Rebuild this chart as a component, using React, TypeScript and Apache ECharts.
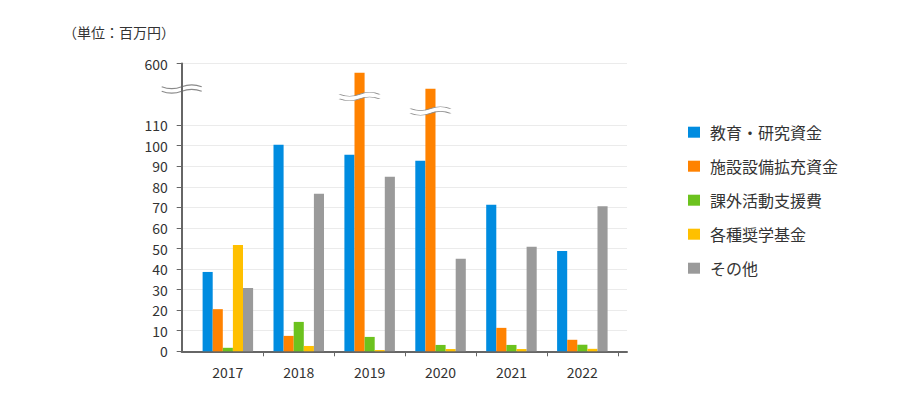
import React, { useEffect, useRef } from "react";
import * as echarts from "echarts";

// ---- data ----
const years = ["2017", "2018", "2019", "2020", "2021", "2022"];
const seriesNames = ["教育・研究資金", "施設設備拡充資金", "課外活動支援費", "各種奨学基金", "その他"];
const education = [38.6, 100.5, 95.6, 92.7, 71.3, 48.8];
const facilities = [20.5, 7.5, 595.5, 587.7, 11.4, 5.6];
const clubs = [1.7, 14.3, 7.0, 3.1, 3.1, 3.2];
const scholarships = [51.7, 2.6, 0.6, 1.1, 1.1, 1.2];
const others = [30.8, 76.6, 84.9, 45.0, 50.8, 70.6];
const yTicks = [0, 10, 20, 30, 40, 50, 60, 70, 80, 90, 100, 110, 600];
const axisBreak = { start: 112, end: 575, gap: 3 };
const barBreakMarks: [string, number][] = [["2019", 583.9], ["2020", 576.9]];
const axisBreakMarkValue = 587.6;
const unitLabel = "（単位：百万円）";

const colors = ["#008ce0", "#ff8200", "#6cc21e", "#ffc000", "#9a9a9a"];
const FONT = '"Noto Sans CJK JP", "Noto Sans", sans-serif';

// wave shapes (box 38 x ~8)
const bandD =
  "M0 2 C6.3 4.5 12.7 4.5 19 2 C25.3 -0.5 31.7 -0.5 38 2 L38 6.5 C31.7 4 25.3 4 19 6.5 C12.7 9 6.3 9 0 6.5 Z";
const waveD =
  "M0 2 C6.3 4.5 12.7 4.5 19 2 C25.3 -0.5 31.7 -0.5 38 2 M0 6.5 C6.3 9 12.7 9 19 6.5 C25.3 4 31.7 4 38 6.5";

echarts.graphic.registerShape("breakBand", echarts.graphic.extendPath(bandD, {}));
echarts.graphic.registerShape("breakWave", echarts.graphic.extendPath(waveD, {}));

const AXIS_COLOR = "#666666";

export default function App() {
  const ref = useRef<HTMLDivElement>(null);

  useEffect(() => {
    if (!ref.current) return;
    const chart = echarts.init(ref.current, undefined, { renderer: "svg" });

    const breakMarkData: any[] = [];
    barBreakMarks.forEach(([cat, v]) => {
      breakMarkData.push({
        coord: [cat, v],
        symbol: "path://" + bandD,
        symbolSize: [40, 8.5],
        itemStyle: { color: "#ffffff", borderWidth: 0 },
      });
      breakMarkData.push({
        coord: [cat, v],
        symbol: "path://" + waveD,
        symbolSize: [40, 8.5],
        itemStyle: { color: "none", borderColor: "#8a8a8a", borderWidth: 1.2 },
      });
    });

    const values = [education, facilities, clubs, scholarships, others];

    const option: any = {
      animation: false,
      textStyle: { fontFamily: FONT },
      title: {
        text: unitLabel,
        left: 63,
        top: 24.5,
        padding: 0,
        textStyle: { fontSize: 14, fontWeight: "normal", color: "#333", fontFamily: FONT },
      },
      legend: {
        data: seriesNames,
        orient: "vertical",
        left: 688,
        top: 124.2,
        padding: 0,
        icon: "rect",
        itemWidth: 12,
        itemHeight: 11,
        itemGap: 18,
        textStyle: { fontSize: 16, color: "#333", fontFamily: FONT, lineHeight: 16, padding: [0, 0, 0, 5] },
      },
      grid: [
        { left: 192.4, right: 302.2, top: 63.5, bottom: 46.7, outerBoundsMode: "none" },
        { left: 181.7, right: 293, top: 63.5, bottom: 46.7, outerBoundsMode: "none" },
      ],
      xAxis: [
        {
          type: "category",
          gridIndex: 0,
          data: years,
          axisLine: { show: false },
          axisTick: {
            show: true,
            length: 5,
            interval: (i: number) => i !== 0,
            lineStyle: { color: AXIS_COLOR },
          },
          axisLabel: { fontSize: 14, color: "#333", margin: 13.5, fontFamily: FONT },
        },
        {
          type: "value",
          gridIndex: 1,
          min: 0,
          max: 1,
          axisLine: { show: true, onZero: false, lineStyle: { color: AXIS_COLOR, width: 2 } },
          axisTick: { show: false },
          axisLabel: { show: false },
          splitLine: { show: false },
        },
      ],
      yAxis: [
        {
          type: "value",
          gridIndex: 0,
          min: 0,
          max: 600,
          breaks: [axisBreak],
          breakArea: { show: false },
          show: false,
          splitLine: { show: false },
        },
        {
          type: "value",
          gridIndex: 1,
          position: "left",
          min: 0,
          max: 600,
          breaks: [axisBreak],
          breakArea: { show: false },
          axisLine: { show: false },
          axisTick: { show: true, length: 5, customValues: yTicks, lineStyle: { color: AXIS_COLOR } },
          axisLabel: { customValues: yTicks, fontSize: 14, color: "#333", margin: 14, fontFamily: FONT },
          splitLine: { show: true, lineStyle: { color: "#ebebeb", width: 1 } },
        },
        {
          type: "value",
          gridIndex: 1,
          position: "left",
          min: 0,
          max: 1,
          axisLine: { show: true, onZero: false, lineStyle: { color: AXIS_COLOR, width: 2 } },
          axisTick: { show: false },
          axisLabel: { show: false },
          splitLine: { show: false },
        },
      ],
      series: seriesNames.map((name, i) => ({
        name,
        type: "bar",
        xAxisIndex: 0,
        yAxisIndex: 0,
        data: values[i],
        barWidth: 10.1,
        barGap: "0%",
        itemStyle: { color: colors[i] },
        markPoint:
          i === 1
            ? { silent: true, animation: false, label: { show: false }, data: breakMarkData }
            : undefined,
      })),
    };

    chart.setOption(option);

    const axisX = 181.7;
    const axisY = chart.convertToPixel({ yAxisIndex: 1 } as any, axisBreakMarkValue) as number;
    chart.setOption({
      graphic: [
        {
          type: "group",
          x: axisX - 20,
          y: axisY - 4.25,
          z: 100,
          children: [
            { type: "breakBand", scaleX: 40 / 38, scaleY: 1, style: { fill: "#ffffff" } },
            {
              type: "breakWave",
              scaleX: 40 / 38,
              scaleY: 1,
              style: { fill: "none", stroke: "#8a8a8a", lineWidth: 1.2 },
            },
          ],
        },
      ],
    });

    return () => chart.dispose();
  }, []);

  return (
    <div
      ref={ref}
      style={{ position: "fixed", left: 0, top: 0, width: 920, height: 398, background: "#fff" }}
    />
  );
}
